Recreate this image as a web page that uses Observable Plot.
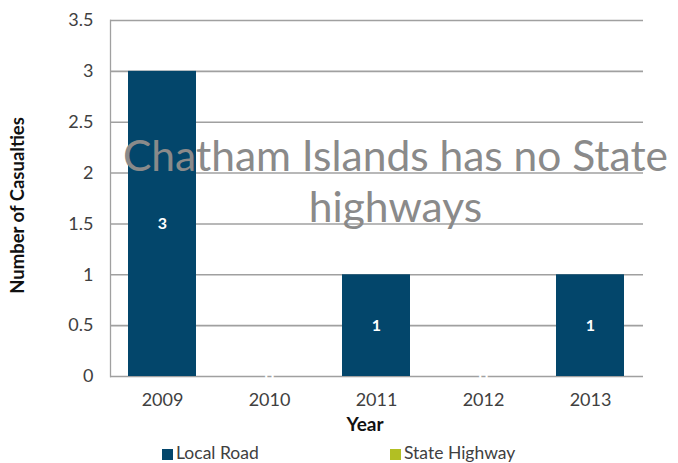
<!DOCTYPE html>
<html>
<head>
<meta charset="utf-8">
<script src="https://cdn.jsdelivr.net/npm/d3@7"></script>
<script src="https://cdn.jsdelivr.net/npm/@observablehq/plot@0.6"></script>
<style>
  body { margin: 0; background: #fff; font-family: Lato, "Open Sans", sans-serif; }
  #chart { position: relative; width: 678px; }
  #legend { position: relative; width: 678px; height: 23px; overflow: hidden; }
  .sw { position: absolute; width: 11px; height: 11px; top: 9px; }
  .lt { position: absolute; top: 3px; font-size: 17.5px; line-height: 20px; color: #404040; white-space: nowrap; }
</style>
</head>
<body>
<div id="chart"></div>
<div id="legend"></div>
<script>
const years = ["2009", "2010", "2011", "2012", "2013"];
const localRoad = [3, 0, 1, 0, 1];
const stateHighway = [0, 0, 0, 0, 0];
const seriesNames = ["Local Road", "State Highway"];
const seriesColors = ["#03466b", "#b2bf23"];
const yTicks = [0, 0.5, 1, 1.5, 2, 2.5, 3, 3.5];
const yTickLabels = ["0", "0.5", "1", "1.5", "2", "2.5", "3", "3.5"];
const titleLines = ["Chatham Islands has no State", "highways"];
const xTitle = "Year";
const yTitle = "Number of Casualties";

const rows = [];
years.forEach((y, i) => {
  rows.push({year: y, series: seriesNames[0], value: localRoad[i]});
  rows.push({year: y, series: seriesNames[1], value: stateHighway[i]});
});
const localRows = rows.filter(d => d.series === seriesNames[0]);

const font = "Lato, 'Open Sans', sans-serif";
const grid = "#a0a0a0";

const chart = Plot.plot({
  width: 678,
  height: 440,
  marginLeft: 110,
  marginRight: 35,
  marginTop: 20,
  marginBottom: 64,
  style: {fontFamily: font, fontSize: "16px", color: "#404040", background: "#fff"},
  x: {domain: years, paddingInner: 0.36, paddingOuter: 0.17, label: null},
  y: {domain: [0, 3.5], label: null},
  color: {domain: seriesNames, range: seriesColors},
  marks: [
    Plot.ruleY(yTicks, {stroke: grid, strokeWidth: 1.6}),
    Plot.frame({anchor: "left", stroke: grid, strokeWidth: 1.3}),
    Plot.barY(rows, {x: "year", y: "value", fill: "series", order: seriesNames}),
    Plot.text(localRows, {x: "year", y: d => d.value / 2, text: d => String(d.value), fill: "white", fontSize: 16, fontWeight: "bold"}),
    Plot.axisY({ticks: yTicks, tickFormat: d => yTickLabels[yTicks.indexOf(d)], tickSize: 0, tickPadding: 17, fontSize: 18, label: null}),
    Plot.axisX({tickSize: 0, tickPadding: 17, fontSize: 18, label: null}),
    Plot.text([xTitle], {frameAnchor: "bottom", dx: -12, dy: 54, text: d => d, fontWeight: "bold", fontSize: 19, fill: "#111"}),
    Plot.text([yTitle], {frameAnchor: "left", textAnchor: "middle", dx: -92, dy: 7, rotate: -90, text: d => d, fontWeight: "bold", fontSize: 18.5, fill: "#111"}),
    Plot.text([titleLines[0]], {frameAnchor: "top", lineAnchor: "middle", dx: 18.5, dy: 137, text: d => d, fontSize: 42.5, fill: "#8a8a8a"}),
    Plot.text([titleLines[1]], {frameAnchor: "top", lineAnchor: "middle", dx: 18.5, dy: 188, text: d => d, fontSize: 42.5, fill: "#8a8a8a"})
  ]
});
document.getElementById("chart").appendChild(chart);

const legend = document.getElementById("legend");
const legendX = [162, 390];
seriesNames.forEach((name, i) => {
  const sw = document.createElement("div");
  sw.className = "sw";
  sw.style.left = legendX[i] + "px";
  sw.style.background = seriesColors[i];
  legend.appendChild(sw);
  const t = document.createElement("div");
  t.className = "lt";
  t.style.left = (legendX[i] + 14) + "px";
  t.textContent = name;
  legend.appendChild(t);
});
</script>
</body>
</html>
